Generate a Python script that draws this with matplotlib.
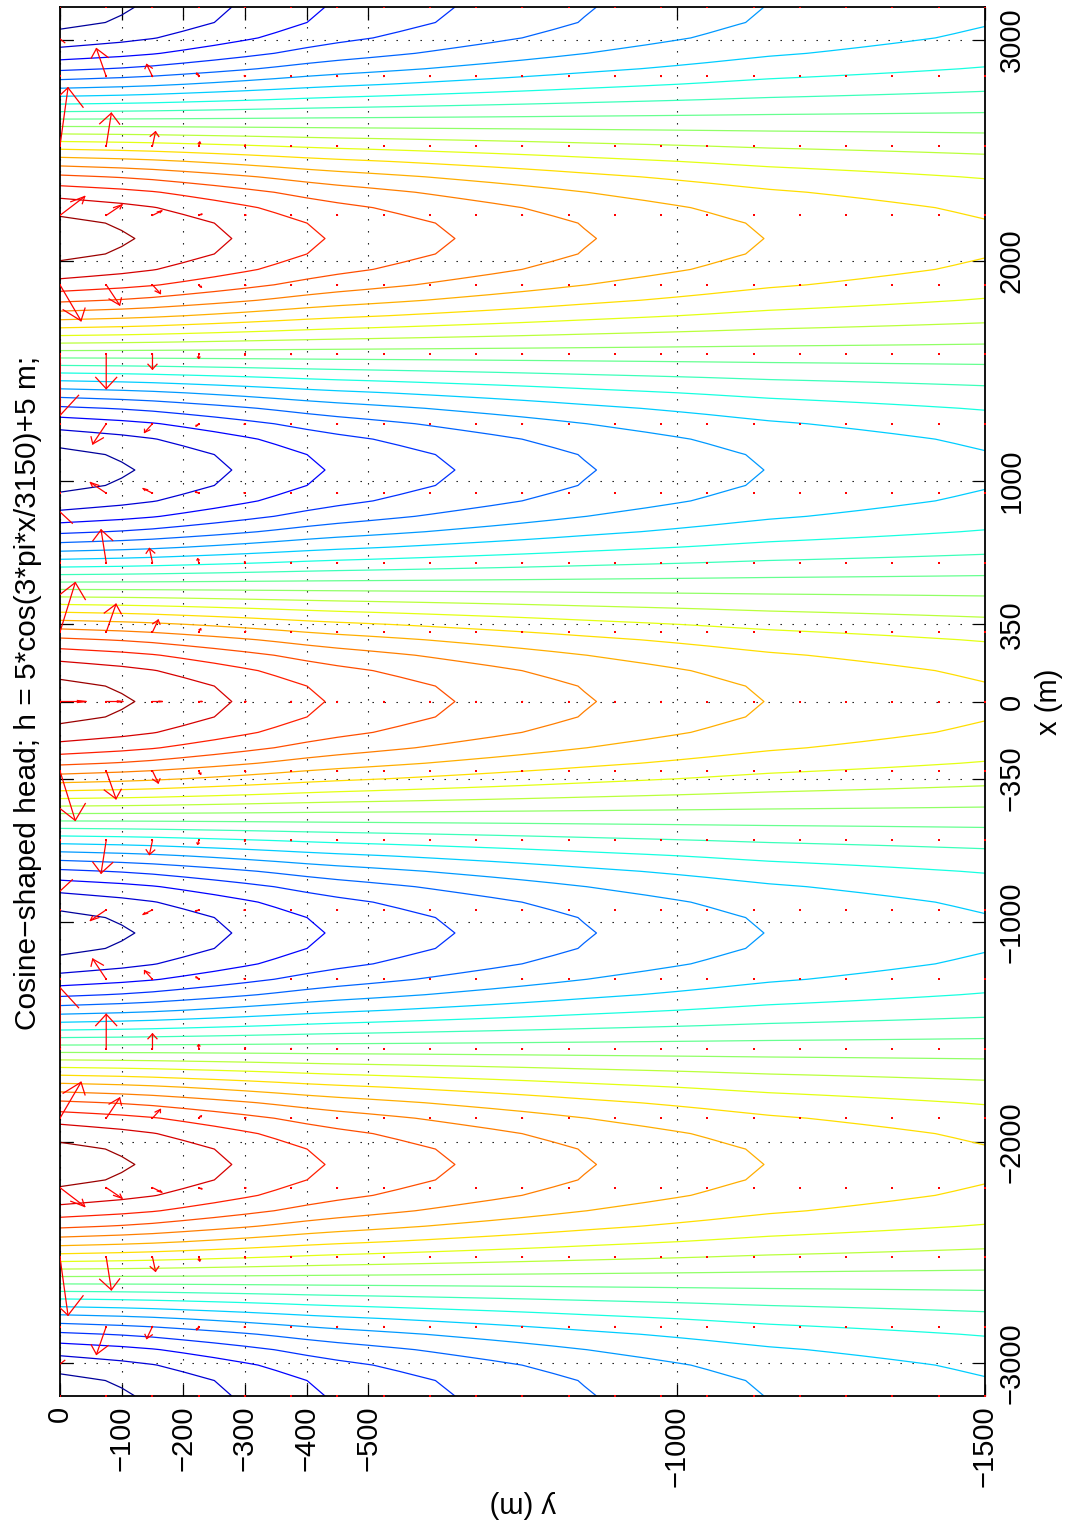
import numpy as np
import matplotlib
matplotlib.use("Agg")
import matplotlib.pyplot as plt
from matplotlib.colors import Normalize

plt.rcParams['font.family'] = ['Liberation Sans', 'DejaVu Sans']

# ── Datos ─────────────────────────────────────────────────────────────────────
# head at the surface: h = 5*cos(3*pi*x/3150) + 5
H_MEAN = 5.0
X_HALF = 3150.0
DEPTH = 1500.0

# amplitude of the cosine head term vs depth
AMP_DEPTH = [0, 128, 279, 425, 640, 868, 1138, 1500]
AMP_VALUE = [5.0, 4.75, 4.25, 3.75, 3.25, 2.75, 2.25, 1.82]

# contour levels of h (m)
LEVELS = [0.25, 0.75, 1.25, 1.75, 2.25, 2.75, 3.25, 3.75, 4.25, 4.75,
          5.25, 5.75, 6.25, 6.75, 7.25, 7.75, 8.25, 8.75, 9.25, 9.75]

# relative size of the flow vectors vs depth
VEL_DEPTH = [0, 75, 150, 225, 300, 375, 450]
VEL_FACTOR = [1.0, 0.58, 0.26, 0.075, 0.02, 0.005, 0.0]

X_TICKS = [-3000, -2000, -1000, -350, 0, 350, 1000, 2000, 3000]
Y_TICKS = [-1500, -1000, -500, -400, -300, -200, -100, 0]

# grids: head grid and quiver grid
DX_HEAD, DY_HEAD = 70.0, 50.0
DX_QUIV, DY_QUIV = 315.0, 75.0


def head(xv, yv):
    amp = np.interp(-yv, AMP_DEPTH, AMP_VALUE)
    return H_MEAN + amp[:, None] * np.cos(3 * np.pi * xv[None, :] / X_HALF)


# ── Campo de carga ────────────────────────────────────────────────────────────
xg = np.arange(-X_HALF, X_HALF + 1, DX_HEAD)
yg = np.arange(0, -DEPTH - 1, -DY_HEAD)
H = head(xg, yg)                       # (ny, nx)

# ── Vectores de flujo (gradient + quiver clasico de MATLAB) ───────────────────
xq = np.arange(-X_HALF, X_HALF + 1, DX_QUIV)
yq = np.arange(0, -DEPTH - 1, -DY_QUIV)
Hq = head(xq, yq)
dHdy, dHdx = np.gradient(Hq, yq, xq)
kfac = np.interp(-yq, VEL_DEPTH, VEL_FACTOR)[:, None]
U = -dHdx * kfac                       # x component
V = -dHdy * kfac                       # y component
XQ, YQ = np.meshgrid(xq, yq)

m, n = XQ.shape
delx = (xq.max() - xq.min()) / n
dely = (yq.max() - yq.min()) / m
maxlen = np.sqrt((U**2 + V**2) / (delx**2 + dely**2)).max()
U = U * 0.9 / maxlen
V = V * 0.9 / maxlen

alpha, beta = 0.33, 0.33
x0, y0, u, v = XQ.ravel(), YQ.ravel(), U.ravel(), V.ravel()
nan = np.full_like(x0, np.nan)
eps = 1e-12
shaft_x = np.vstack([x0, x0 + u, nan]).T.ravel()
shaft_y = np.vstack([y0, y0 + v, nan]).T.ravel()
head_x = np.vstack([x0 + u - alpha * (u + beta * (v + eps)), x0 + u,
                    x0 + u - alpha * (u - beta * (v + eps)), nan]).T.ravel()
head_y = np.vstack([y0 + v - alpha * (v - beta * (u + eps)), y0 + v,
                    y0 + v - alpha * (v + beta * (u + eps)), nan]).T.ravel()

# ── Figura (girada: eje horizontal = y, eje vertical = x) ─────────────────────
fig = plt.figure(figsize=(10.69, 15.30), dpi=100)
ax = fig.add_axes([0.0561, 0.0876, 0.8653, 0.9078])

ax.contour(yg, xg, H.T, levels=LEVELS, cmap='jet', norm=Normalize(0, 10),
           linewidths=0.9)

ax.plot(shaft_y, shaft_x, color='red', lw=0.9, zorder=3)
ax.plot(head_y, head_x, color='red', lw=0.9, zorder=3)
ax.plot(YQ.ravel(), XQ.ravel(), 's', color='red', ms=1.6, mew=0, zorder=3)

ax.set_xlim(0, -DEPTH)
ax.set_ylim(-X_HALF, X_HALF)
ax.set_xticks(Y_TICKS)
ax.set_yticks(X_TICKS)
ax.grid(True, color='k', linestyle=(0, (1.2, 9.6)), linewidth=0.8)

for s in ax.spines.values():
    s.set_linewidth(1.3)

ax.tick_params(direction='in', length=9, width=0.9, labelsize=21,
               top=True, bottom=True, left=True, right=True,
               labelleft=False, labelright=True, labelbottom=True, labeltop=False)
ax.tick_params(axis='x', labelrotation=90, pad=7)
ax.tick_params(axis='y', labelrotation=90, pad=9)
for lab in ax.get_yticklabels():
    lab.set_va('center')

ax.set_xlabel('y (m)', fontsize=21, rotation=180, va='center')
ax.xaxis.set_label_coords(0.5, -0.078)
ax.yaxis.set_label_position('right')
ax.set_ylabel('x (m)', fontsize=21, rotation=90, va='center')
ax.yaxis.set_label_coords(1.069, 0.5)
ax.set_title('Cosine\u2212shaped head; h = 5*cos(3*pi*x/3150)+5 m;',
             fontsize=21.5, rotation=90, x=-0.0346, y=0.5, ha='center', va='center')

fig.savefig('out.png', dpi=100)
